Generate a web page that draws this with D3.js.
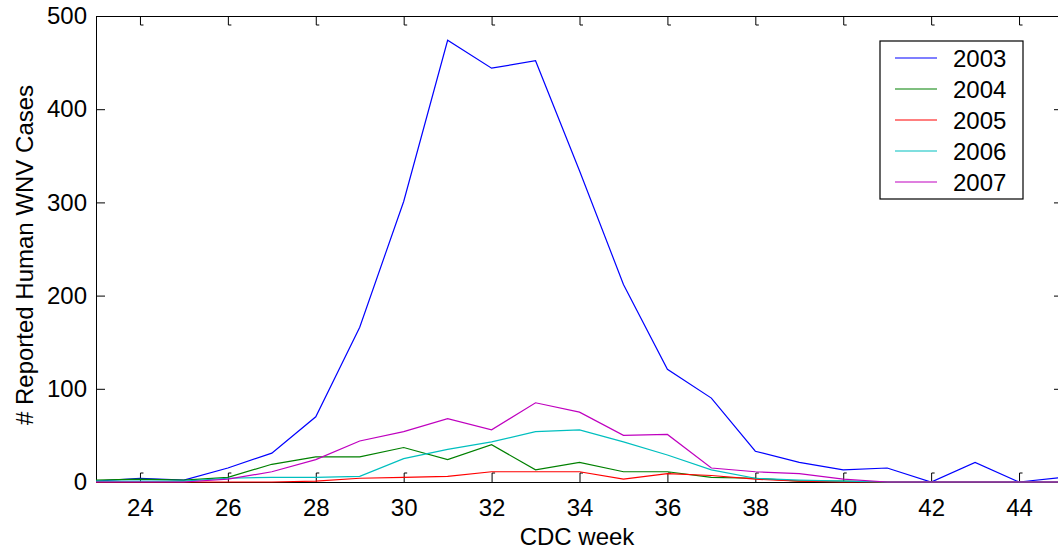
<!DOCTYPE html>
<html>
<head>
<meta charset="utf-8">
<script src="https://cdn.jsdelivr.net/npm/d3@7"></script>
<style>
  body { margin: 0; background: #fff; }
  svg { display: block; font-family: "Liberation Sans", Arial, sans-serif; }
  .axis path, .axis line { stroke: #000; }
  .axis text { font-size: 24px; fill: #000; font-family: "Liberation Sans", Arial, sans-serif; }
</style>
</head>
<body>
<div id="chart"></div>
<script>
// CDC weeks on the x axis
var weeks = [23, 24, 25, 26, 27, 28, 29, 30, 31, 32, 33, 34, 35, 36, 37, 38, 39, 40, 41, 42, 43, 44, 45];

// reported human WNV cases per season
var cases2003 = [1, 4, 2, 15, 31, 70, 166, 301, 474, 444, 452, 334, 212, 121, 90, 33, 21, 13, 15, 0, 21, 0, 5];
var cases2004 = [2, 3, 2, 5, 19, 27, 27, 37, 24, 40, 13, 21, 11, 11, 5, 4, 1, 1, 0, 0, 0, 0, 0];
var cases2005 = [0, 0, 0, 0, 0, 1, 4, 5, 6, 11, 11, 11, 3, 9, 7, 3, 1, 0, 0, 0, 0, 0, 0];
var cases2006 = [1, 1, 1, 4, 5, 5, 6, 25, 35, 43, 54, 56, 43, 29, 13, 4, 2, 1, 0, 0, 0, 0, 0];
var cases2007 = [0, 0, 0, 3, 11, 24, 44, 54, 68, 56, 85, 75, 50, 51, 15, 11, 9, 3, 0, 0, 0, 0, 0];

var seriesNames = ["2003", "2004", "2005", "2006", "2007"];
var xTicks = [24, 26, 28, 30, 32, 34, 36, 38, 40, 42, 44];
var yTicks = [0, 100, 200, 300, 400, 500];

var series = [
    {name: seriesNames[0], values: cases2003, color: "#0000ff"},
    {name: seriesNames[1], values: cases2004, color: "#008000"},
    {name: seriesNames[2], values: cases2005, color: "#ff0000"},
    {name: seriesNames[3], values: cases2006, color: "#00bfbf"},
    {name: seriesNames[4], values: cases2007, color: "#bf00bf"}
];

var svgWidth = 1058;
var svgHeight = 556;

var margin = {top: 16, right: -5, bottom: 74, left: 96};
var width = svgWidth - margin.left - margin.right;
var height = svgHeight - margin.top - margin.bottom;

var svg = d3.select("#chart").append("svg").attr("width", svgWidth).attr("height", svgHeight);
var chartGroup = svg.append("g").attr("transform", `translate(${margin.left}, ${margin.top})`);

var xScale = d3.scaleLinear().domain([23, 45]).range([0, width]);
var yScale = d3.scaleLinear().domain([0, 500]).range([height, 0]);

// axes: ticks point inward like the matlab box
var xBottom = d3.axisBottom(xScale).tickValues(xTicks).tickSize(-9).tickPadding(17).tickSizeOuter(0);
var xTop = d3.axisTop(xScale).tickValues(xTicks).tickSize(-9).tickFormat("").tickSizeOuter(0);
var yLeft = d3.axisLeft(yScale).tickValues(yTicks).tickSize(-9).tickPadding(9).tickSizeOuter(0);
var yRight = d3.axisRight(yScale).tickValues(yTicks).tickSize(-9).tickFormat("").tickSizeOuter(0);

var gBottom = chartGroup.append("g").attr("class", "axis").attr("transform", `translate(0, ${height})`).call(xBottom);
var gTop = chartGroup.append("g").attr("class", "axis").call(xTop);
chartGroup.append("g").attr("class", "axis").call(yLeft);
chartGroup.append("g").attr("class", "axis").attr("transform", `translate(${width}, 0)`).call(yRight);

// little hooks on the tick ends
gBottom.selectAll(".tick").append("line").attr("x1", 0).attr("x2", 3).attr("y1", -9).attr("y2", -9).attr("stroke", "#000");
gTop.selectAll(".tick").append("line").attr("x1", 0).attr("x2", 3).attr("y1", 9).attr("y2", 9).attr("stroke", "#000");

var line = d3.line()
    .x((d, i) => xScale(weeks[i]))
    .y(d => yScale(d));

chartGroup.selectAll(".series")
    .data(series)
    .enter()
    .append("path")
    .attr("class", "series")
    .attr("d", d => line(d.values))
    .attr("fill", "none")
    .attr("stroke", d => d.color)
    .attr("stroke-width", 1.2);

// legend
var legend = svg.append("g").attr("transform", "translate(880, 41)");
legend.append("rect")
    .attr("width", 143)
    .attr("height", 158)
    .attr("fill", "#fff")
    .attr("stroke", "#000")
    .attr("stroke-width", 1.2);

var items = legend.selectAll(".item")
    .data(series)
    .enter()
    .append("g")
    .attr("transform", (d, i) => `translate(0, ${17 + i * 31})`);

items.append("line")
    .attr("x1", 15).attr("x2", 57)
    .attr("stroke", d => d.color)
    .attr("stroke-width", 1.2);

items.append("text")
    .attr("x", 73)
    .attr("y", 9)
    .attr("font-size", "24px")
    .text(d => d.name);

// axis titles
svg.append("text")
    .attr("transform", "translate(33, 255) rotate(-90)")
    .attr("text-anchor", "middle")
    .attr("font-size", "24px")
    .text("# Reported Human WNV Cases");

svg.append("text")
    .attr("x", 577)
    .attr("y", 545)
    .attr("text-anchor", "middle")
    .attr("font-size", "24px")
    .text("CDC week");
</script>
</body>
</html>
